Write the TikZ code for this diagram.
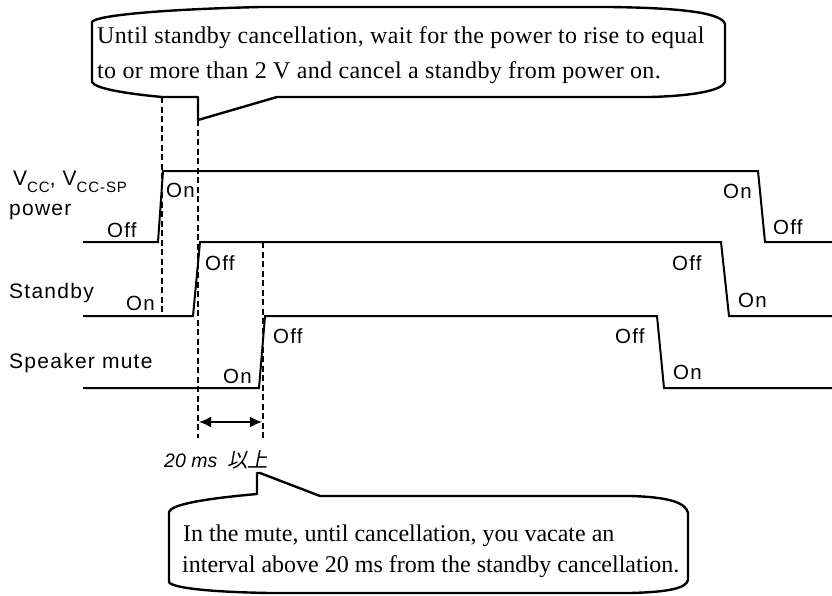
\documentclass[tikz,border=0pt]{standalone}
\usepackage{fontspec}
\setmainfont{Liberation Serif}
\setsansfont{Liberation Sans}
\newfontfamily\lblfont[LetterSpace=6]{Liberation Sans}
\newfontfamily\notefont[LetterSpace=1.5]{Liberation Serif}
\newfontfamily\notefontb[LetterSpace=0]{Liberation Serif}
\newfontfamily\cjkfont[FakeSlant=0.2]{Noto Sans CJK JP}
\usetikzlibrary{arrows.meta}
\begin{document}
\begin{tikzpicture}[x=1pt,y=-1pt,
  sig/.style={line width=2pt, line join=miter},
  guide/.style={line width=1.6pt, dash pattern=on 6pt off 3.5pt},
  balloon/.style={line width=2.4pt, line join=round},
  st/.style={anchor=base west, inner sep=0pt, font=\lblfont\fontsize{20.5}{23}\selectfont},
  rowlbl/.style={anchor=base west, inner sep=0pt, font=\lblfont\fontsize{21}{24}\selectfont},
  note/.style={anchor=base west, inner sep=0pt, font=\notefont\fontsize{24}{28}\selectfont},
  noteb/.style={anchor=base west, inner sep=0pt, font=\notefontb\fontsize{24}{28}\selectfont},
  span/.style={line width=2pt, {Latex[length=12pt,width=11pt]}-{Latex[length=12pt,width=11pt]}}]
\useasboundingbox (0,0) rectangle (832,595);

% ---------- waveforms ----------
\coordinate (p0) at (83,242);  \coordinate (p1) at (158,242);
\coordinate (p2) at (163,171); \coordinate (p3) at (758,171);
\coordinate (p4) at (765,242); \coordinate (p5) at (832,242);
\draw[sig] (p0) -- (p1) -- (p2) -- (p3) -- (p4) -- (p5);

\coordinate (s0) at (83,316);  \coordinate (s1) at (193,316);
\coordinate (s2) at (200,242); \coordinate (s3) at (721,242);
\coordinate (s4) at (729,316); \coordinate (s5) at (832,316);
\draw[sig] (s0) -- (s1) -- (s2) -- (s3) -- (s4) -- (s5);

\coordinate (m0) at (83,388);  \coordinate (m1) at (259,388);
\coordinate (m2) at (265,316); \coordinate (m3) at (657,316);
\coordinate (m4) at (664,388); \coordinate (m5) at (832,388);
\draw[sig] (m0) -- (m1) -- (m2) -- (m3) -- (m4) -- (m5);

% ---------- dashed guides ----------
\coordinate (g1t) at (162,97);  \coordinate (g1b) at (162,316);
\coordinate (g2t) at (198,120); \coordinate (g2b) at (198,438);
\coordinate (g3t) at (263,242); \coordinate (g3b) at (263,438);
\draw[guide] (g1t) -- (g1b);
\draw[guide] (g2t) -- (g2b);
\draw[guide] (g3t) -- (g3b);

% ---------- 20 ms span ----------
\coordinate (a1) at (199,422); \coordinate (a2) at (262,422);
\draw[span] (a1) -- (a2);
\node[anchor=base west, inner sep=0pt, font=\sffamily\itshape\fontsize{19.5}{22}\selectfont] (ms) at (164,467) {20 ms};
\node[anchor=base west, inner sep=0pt, font=\cjkfont\fontsize{20.5}{22}\selectfont] (ijo) at (227,467) {以上};

% ---------- row labels ----------
\node[rowlbl] (vcc) at (13,185) {V{\fontsize{15}{17}\selectfont\raisebox{-7pt}{CC}}, V{\fontsize{15}{17}\selectfont\raisebox{-7pt}{CC-SP}}};
\node[rowlbl] (pwr) at (9,215) {power};
\node[rowlbl] (stb) at (9,298) {Standby};
\node[rowlbl] (spk) at (9,368) {Speaker mute};

% ---------- state labels ----------
\node[st] (l1) at (107,237) {Off};
\node[st] (l2) at (166,197) {On};
\node[st] (l3) at (126,310) {On};
\node[st] (l4) at (205,270) {Off};
\node[st] (l5) at (223,383) {On};
\node[st] (l6) at (273,343) {Off};
\node[st] (r1) at (723,198) {On};
\node[st] (r2) at (773,234) {Off};
\node[st] (r3) at (672,270) {Off};
\node[st] (r4) at (738,307) {On};
\node[st] (r5) at (615,343) {Off};
\node[st] (r6) at (673,379) {On};

% ---------- top callout ----------
\draw[balloon] (92,22) .. controls (94,17) and (140,10) .. (260,7)
  -- (610,7) .. controls (690,8) and (722,14) .. (725,24)
  -- (725,82) .. controls (722,91) and (690,96) .. (650,97)
  -- (277,97) -- (198,120) -- (198,97) -- (162,97)
  .. controls (120,93) and (95,88) .. (92,82) -- cycle;
\node[note] (t1) at (97,43) {Until standby cancellation, wait for the power to rise to equal};
\node[note] (t2) at (97,78) {to or more than 2 V and cancel a standby from power on.};

% ---------- bottom callout ----------
\draw[balloon] (169,512) .. controls (171,505) and (200,499) .. (257,494)
  -- (257,473) -- (260,473) -- (320,496)
  -- (630,496) .. controls (670,497) and (686,503) .. (688,513)
  -- (688,580) .. controls (686,588) and (670,592) .. (630,593)
  -- (270,593) .. controls (210,592) and (172,588) .. (169,582) -- cycle;
\node[noteb] (b1) at (183,541) {In the mute, until cancellation, you vacate an};
\node[noteb] (b2) at (182,572) {interval above 20 ms from the standby cancellation.};
\end{tikzpicture}
\end{document}
